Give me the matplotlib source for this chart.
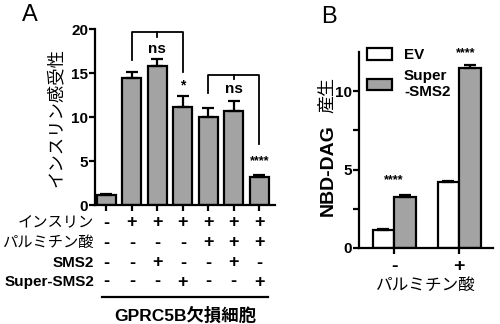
import matplotlib
matplotlib.use("Agg")
import matplotlib.pyplot as plt
import matplotlib.transforms as mtransforms
import numpy as np

plt.rcParams['font.family'] = ['Liberation Sans', 'Noto Sans CJK JP']

# panel A data
a_values = [1.15, 14.4, 15.8, 11.1, 10.0, 10.7, 3.2]
a_errors = [0.1, 0.7, 0.8, 1.3, 1.0, 1.1, 0.25]
row_names = ["インスリン", "パルミチン酸", "SMS2", "Super-SMS2"]
row_signs = [
    ["-", "+", "+", "+", "+", "+", "+"],
    ["-", "-", "-", "-", "+", "+", "+"],
    ["-", "-", "+", "-", "-", "+", "-"],
    ["-", "-", "-", "+", "-", "-", "+"],
]
group_label = "GPRC5B欠損細胞"

# panel B data
b_groups = ["-", "+"]
b_ev = [1.15, 4.2]
b_ev_err = [0.05, 0.06]
b_super = [3.25, 11.5]
b_super_err = [0.1, 0.15]

gray = "#a3a3a3"
lw = 1.6

fig = plt.figure(figsize=(5, 3.24), dpi=100)

# ---------- panel A ----------
axA = fig.add_axes([0.19, 0.367, 0.36, 0.543])
x = np.arange(len(a_values))
axA.bar(x, a_values, width=0.74, color=gray, edgecolor="black", linewidth=lw)
axA.errorbar(x, a_values, yerr=[np.zeros(len(a_errors)), a_errors], fmt="none",
             ecolor="black", elinewidth=lw, capsize=4, capthick=lw)
axA.set_xlim(-0.45, 6.62)
axA.set_ylim(0, 20)
axA.set_yticks([0, 5, 10, 15, 20])
axA.set_xticks(x)
axA.set_xticklabels([])
for s in ["top", "right"]:
    axA.spines[s].set_visible(False)
for s in ["left", "bottom"]:
    axA.spines[s].set_linewidth(lw)
axA.tick_params(width=lw, length=4, labelsize=11, pad=1)
for t in axA.get_yticklabels():
    t.set_fontweight("bold")
axA.set_ylabel("インスリン感受性", fontsize=12.5, labelpad=5)

# brackets
def bracket(ax, x1, x2, top, y1, y2, label, ly):
    ax.plot([x1, x1, x2, x2], [y1, top, top, y2], color="black", lw=1.3, clip_on=False)
    xm = (x1 + x2) / 2
    ax.plot([xm, xm], [top, top - 0.5], color="black", lw=1.3, clip_on=False)
    ax.text(xm, ly, label, ha="center", va="center", fontsize=11, fontweight="bold")

bracket(axA, 1, 3, 19.66, 16.5, 15.1, "ns", 17.8)
bracket(axA, 4, 6, 14.8, 12.7, 7.0, "ns", 13.2)
axA.text(3, 13.6, "*", ha="center", va="center", fontsize=10, fontweight="bold")
axA.text(6, 5.0, "****", ha="center", va="center", fontsize=9, fontweight="bold")

# +/- table
trans = mtransforms.blended_transform_factory(axA.transData, fig.transFigure)
row_y = [223, 243, 263, 282]
for name, signs, py in zip(row_names, row_signs, row_y):
    fy = 1 - py / 324
    weight = "bold" if name.isascii() else "normal"
    fig.text(0.188, fy, name, ha="right", va="center", fontsize=11, fontweight=weight)
    for xi, s in zip(x, signs):
        axA.text(xi, fy, s, transform=trans, ha="center", va="center",
                 fontsize=13, fontweight="bold")
fig.add_artist(plt.Line2D([102 / 500, 268 / 500], [1 - 297 / 324] * 2,
                          color="black", lw=1.6))
fig.text(185 / 500, 1 - 315 / 324, group_label, ha="center", va="center",
         fontsize=12.5, fontweight="bold")

# ---------- panel B ----------
axB = fig.add_axes([0.718, 0.2346, 0.268, 0.605])
xb = np.arange(len(b_groups))
bw = 0.33
axB.bar(xb - bw / 2, b_ev, width=bw, color="white", edgecolor="black", linewidth=lw, label="EV")
axB.bar(xb + bw / 2, b_super, width=bw, color=gray, edgecolor="black", linewidth=lw,
        label="Super\n-SMS2")
axB.errorbar(xb - bw / 2, b_ev, yerr=[[0, 0], b_ev_err], fmt="none", ecolor="black",
             elinewidth=lw, capsize=4, capthick=lw)
axB.errorbar(xb + bw / 2, b_super, yerr=[[0, 0], b_super_err], fmt="none", ecolor="black",
             elinewidth=lw, capsize=4, capthick=lw)
axB.set_xlim(-0.54, 1.52)
axB.set_ylim(0, 12.5)
axB.set_yticks([0, 2.5, 5, 7.5, 10])
axB.set_yticklabels(["0", "", "5", "", "10"])
axB.set_xticks(xb)
axB.set_xticklabels(b_groups, fontsize=14, fontweight="bold")
for s in ["top", "right"]:
    axB.spines[s].set_visible(False)
for s in ["left", "bottom"]:
    axB.spines[s].set_linewidth(lw)
axB.tick_params(width=lw, length=4, labelsize=11, pad=1)
axB.tick_params(axis="x", pad=3, labelsize=14)
for t in axB.get_yticklabels():
    t.set_fontweight("bold")
# y label: bold latin part, regular kanji part
fig.text(328 / 500, 1 - 170 / 324, "NBD-DAG", rotation=90, fontsize=14,
         fontweight="bold", ha="center", va="center")
fig.text(328 / 500, 1 - 95 / 324, "産生", rotation=90, fontsize=13,
         ha="center", va="center")
axB.set_xlabel("パルミチン酸", fontsize=12, labelpad=2)
axB.text(0, 4.3, "****", ha="center", va="center", fontsize=9, fontweight="bold")
axB.text(1.1, 12.4, "****", ha="center", va="center", fontsize=9, fontweight="bold")
leg = axB.legend(loc="upper left", bbox_to_anchor=(-0.04, 1.09), frameon=False,
                 handlelength=1.6, handleheight=0.8, handletextpad=0.8,
                 labelspacing=0.45, prop={"size": 11, "weight": "bold"})

fig.text(0.06, 0.954, "A", fontsize=17, ha="center", va="center")
fig.text(0.657, 0.946, "B", fontsize=17, ha="center", va="center")

plt.savefig("out.png", dpi=100)
